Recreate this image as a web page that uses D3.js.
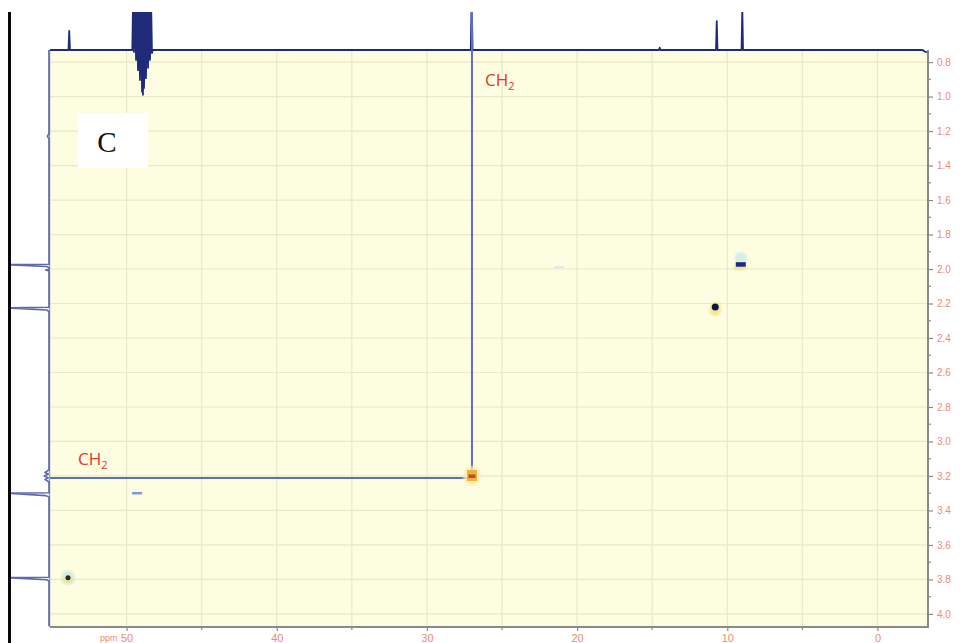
<!DOCTYPE html>
<html>
<head>
<meta charset="utf-8">
<script src="https://cdn.jsdelivr.net/npm/d3@7/dist/d3.min.js"></script>
<style>
  html, body { margin: 0; padding: 0; background: #ffffff; }
  svg { display: block; }
</style>
</head>
<body>
<svg id="chart" width="961" height="643"></svg>
<script>
// HSQC spectrum: 13C (horizontal, ppm) vs 1H (vertical, ppm)
const carbonTicks = [50, 40, 30, 20, 10, 0];
const carbonMinorTicks = [55, 45, 35, 25, 15, 5];
const protonTicks = [0.8, 1.0, 1.2, 1.4, 1.6, 1.8, 2.0, 2.2, 2.4, 2.6, 2.8, 3.0, 3.2, 3.4, 3.6, 3.8, 4.0];
const protonTickLabels = ["0.8", "1.0", "1.2", "1.4", "1.6", "1.8", "2.0", "2.2", "2.4", "2.6", "2.8", "3.0", "3.2", "3.4", "3.6", "3.8", "4.0"];

// 13C projection along the top: [ppm, intensity]
const carbonTrace = [
  [55.1, 0], [53.87, 0], [53.82, 50], [53.77, 0],
  [49.62, 0], [49.57, 130], [49.51, -5], [49.44, 130], [49.37, -26], [49.31, 130],
  [49.24, -53], [49.17, 130], [49.11, -79], [49.04, 130], [48.97, -110], [48.94, 130],
  [48.91, -118], [48.87, 130], [48.84, -100], [48.77, 130], [48.71, -74], [48.64, 130],
  [48.57, -47], [48.51, 130], [48.44, -26], [48.37, 130], [48.31, -8], [48.26, 0],
  [27.08, 0], [27.02, 140], [26.96, 0],
  [14.55, 0], [14.50, 6], [14.45, 0],
  [10.75, 0], [10.70, 76], [10.65, 0],
  [9.05, 0], [9.00, 110], [8.95, 0],
  [-3.0, 0], [-3.15, -4], [-3.3, -6]
];

// 1H projection along the left: [ppm, intensity]
const protonTrace = [
  [0.73, 0], [1.215, 0], [1.23, 4], [1.245, 0],
  [1.972, 0], [1.975, 110], [1.985, 6], [1.992, 0], [2.002, 0], [2.006, 8], [2.012, 0],
  [2.222, 0], [2.225, 110], [2.238, 6], [2.246, 0],
  [3.165, 0], [3.18, 10], [3.19, 2], [3.20, 12], [3.21, 2], [3.22, 10], [3.235, 0],
  [3.297, 0], [3.300, 110], [3.314, 8], [3.322, 0],
  [3.787, 0], [3.790, 110], [3.802, 6], [3.810, 0],
  [4.07, 0]
];

// Correlation peaks
const peakCarbon = [27.0, 10.8, 9.1, 49.3, 53.9, 21.2];
const peakProton = [3.20, 2.22, 1.975, 3.30, 3.79, 1.99];

// Assigned correlation marked with guide lines
const markedCarbon = 27.0;
const markedProton = 3.20;
const markedLabel = "CH";
const markedSub = "2";
const panelLabel = "C";

const svg = d3.select("#chart");
const plot = { left: 50, right: 928, top: 50, bottom: 626 };

const x = d3.scaleLinear().domain([55.1, -3.3]).range([plot.left, 927]);
const y = d3.scaleLinear().domain([0.73, 4.07]).range([plot.top, plot.bottom]);

// projection intensity scales
const topI = d3.scaleLinear().domain([0, 100]).range([plot.top, 12]);
const leftI = d3.scaleLinear().domain([0, 100]).range([49, 9]);

const defs = svg.append("defs");
defs.append("clipPath").attr("id", "clipTop")
  .append("rect").attr("x", plot.left - 2).attr("y", 12).attr("width", plot.right - plot.left + 4).attr("height", 120);
defs.append("clipPath").attr("id", "clipLeft")
  .append("rect").attr("x", 11).attr("y", plot.top).attr("width", 40).attr("height", plot.bottom - plot.top);
const blur = defs.append("filter").attr("id", "soft").attr("x", "-50%").attr("y", "-50%").attr("width", "200%").attr("height", "200%");
blur.append("feGaussianBlur").attr("stdDeviation", 1.2);
const blur2 = defs.append("filter").attr("id", "soft2").attr("x", "-50%").attr("y", "-50%").attr("width", "200%").attr("height", "200%");
blur2.append("feGaussianBlur").attr("stdDeviation", 0.6);

// plot background
svg.append("rect")
  .attr("x", plot.left).attr("y", plot.top)
  .attr("width", plot.right - plot.left).attr("height", plot.bottom - plot.top)
  .attr("fill", "#fdfde2");

// grid
const grid = svg.append("g").attr("stroke", "#e9e9c6").attr("stroke-width", 1.2);
grid.selectAll("line.v").data(carbonTicks.concat(carbonMinorTicks.filter(d => d < 55)))
  .join("line").attr("class", "v")
  .attr("x1", d => x(d)).attr("x2", d => x(d))
  .attr("y1", plot.top).attr("y2", plot.bottom);
grid.selectAll("line.h").data(protonTicks)
  .join("line").attr("class", "h")
  .attr("x1", plot.left).attr("x2", plot.right)
  .attr("y1", d => y(d)).attr("y2", d => y(d));

// left plot border (1H projection baseline)
svg.append("line")
  .attr("x1", plot.left - 0.5).attr("x2", plot.left - 0.5)
  .attr("y1", plot.top).attr("y2", plot.bottom + 1)
  .attr("stroke", "#9da1c2").attr("stroke-width", 1.5);

// right axis (1H)
const rightAxis = d3.axisRight(y)
  .tickValues(protonTicks)
  .tickFormat((d, i) => protonTickLabels[i])
  .tickSize(5).tickPadding(4);
const gR = svg.append("g").attr("transform", `translate(${plot.right},0)`).call(rightAxis);
gR.select(".domain").attr("stroke", "#8a8a8a").attr("stroke-width", 2)
  .attr("d", `M0,${plot.top}V${plot.bottom + 1}`);
gR.selectAll(".tick line").attr("stroke", "#8a8a8a").attr("stroke-width", 1.2);
gR.selectAll(".tick text").attr("fill", "#ef8a72").attr("font-size", 10)
  .attr("font-family", "Liberation Sans, Arial, sans-serif");
const protonMinor = d3.range(0, protonTicks.length - 1).map(i => (protonTicks[i] + protonTicks[i + 1]) / 2);
gR.selectAll("line.minor").data(protonMinor).join("line").attr("class", "minor")
  .attr("x1", 0).attr("x2", 3).attr("y1", d => y(d)).attr("y2", d => y(d))
  .attr("stroke", "#8a8a8a").attr("stroke-width", 1.2);

// bottom axis (13C)
const bottomAxis = d3.axisBottom(x)
  .tickValues(carbonTicks)
  .tickSize(4).tickPadding(3);
const gB = svg.append("g").attr("transform", `translate(0,${plot.bottom + 1})`).call(bottomAxis);
gB.select(".domain").attr("stroke", "#8a8a8a").attr("stroke-width", 2)
  .attr("d", `M${plot.left},0H${plot.right + 1}`);
gB.selectAll(".tick line").attr("stroke", "#8a8a8a").attr("stroke-width", 1.2);
gB.selectAll(".tick text").attr("fill", "#ef8a72").attr("font-size", 11)
  .attr("font-family", "Liberation Sans, Arial, sans-serif");
gB.selectAll("line.minor").data(carbonMinorTicks.filter(d => d < 55)).join("line").attr("class", "minor")
  .attr("x1", d => x(d)).attr("x2", d => x(d)).attr("y1", 0).attr("y2", 3)
  .attr("stroke", "#8a8a8a").attr("stroke-width", 1.2);
svg.append("text")
  .attr("x", x(50) - 9).attr("y", plot.bottom + 15)
  .attr("text-anchor", "end")
  .attr("fill", "#ef8a72").attr("font-size", 9)
  .attr("font-family", "Liberation Sans, Arial, sans-serif")
  .text("ppm");

// 13C projection
svg.append("path")
  .datum(carbonTrace)
  .attr("clip-path", "url(#clipTop)")
  .attr("fill", "none")
  .attr("stroke", "#1f2b78").attr("stroke-width", 1.8).attr("stroke-linejoin", "round")
  .attr("d", d3.line().x(d => x(d[0])).y(d => topI(d[1])));

// 1H projection
svg.append("path")
  .datum(protonTrace)
  .attr("clip-path", "url(#clipLeft)")
  .attr("fill", "none")
  .attr("stroke", "#5f68a8").attr("stroke-width", 1.6).attr("stroke-linejoin", "round")
  .attr("d", d3.line().x(d => leftI(d[1])).y(d => y(d[0])));

// guide lines through the assigned correlation
svg.append("path")
  .attr("fill", "none").attr("stroke", "#5b6fc9").attr("stroke-width", 2)
  .attr("d", `M${x(markedCarbon)},12V${y(markedProton) + 2}H${plot.left}`);

// correlation peaks
const peaks = svg.append("g");
function glyph(i) {
  const cx = x(peakCarbon[i]), cy = y(peakProton[i]);
  return peaks.append("g").attr("transform", `translate(${cx},${cy})`);
}
// CH2 cross peak
{
  const g = glyph(0);
  g.append("ellipse").attr("rx", 9).attr("ry", 10).attr("fill", "#fbeeb0").attr("opacity", 0.8).attr("filter", "url(#soft)");
  g.append("rect").attr("x", -5).attr("y", -6).attr("width", 10).attr("height", 11).attr("fill", "#f0b13e").attr("filter", "url(#soft2)");
  g.append("rect").attr("x", -3.5).attr("y", -1.5).attr("width", 7).attr("height", 3.5).attr("fill", "#c24a24").attr("filter", "url(#soft2)");
}
// 10.8 / 2.22
{
  const g = glyph(1);
  g.append("ellipse").attr("cy", 2).attr("rx", 6).attr("ry", 7).attr("fill", "#f6e37e").attr("opacity", 0.8).attr("filter", "url(#soft)");
  g.append("ellipse").attr("rx", 3.5).attr("ry", 3.5).attr("fill", "#0f1747").attr("filter", "url(#soft2)");
}
// 9.1 / 1.975
{
  const g = glyph(2);
  g.append("ellipse").attr("cy", -6).attr("rx", 6).attr("ry", 7).attr("fill", "#cfeee8").attr("opacity", 0.9).attr("filter", "url(#soft)");
  g.append("ellipse").attr("cx", -1).attr("cy", 3).attr("rx", 7).attr("ry", 2.5).attr("fill", "#f4df82").attr("opacity", 0.8).attr("filter", "url(#soft)");
  g.append("rect").attr("x", -5).attr("y", -2.5).attr("width", 10).attr("height", 4.5).attr("fill", "#1a2c82").attr("filter", "url(#soft2)");
}
// 49.3 / 3.30
{
  const g = glyph(3);
  g.append("rect").attr("x", -5).attr("y", -1.2).attr("width", 10).attr("height", 2.4).attr("fill", "#7d95dc").attr("filter", "url(#soft2)");
}
// 53.9 / 3.79
{
  const g = glyph(4);
  g.append("ellipse").attr("rx", 7).attr("ry", 7).attr("fill", "#d3ece0").attr("opacity", 0.9).attr("filter", "url(#soft)");
  g.append("ellipse").attr("cy", 2).attr("rx", 5).attr("ry", 4).attr("fill", "#f3e27c").attr("opacity", 0.7).attr("filter", "url(#soft)");
  g.append("ellipse").attr("rx", 2.5).attr("ry", 2.5).attr("fill", "#1d2a3a").attr("filter", "url(#soft2)");
}
// faint 21.2 / 1.99
{
  const g = glyph(5);
  g.append("rect").attr("x", -5).attr("y", -1).attr("width", 10).attr("height", 2).attr("fill", "#d2e8f0").attr("filter", "url(#soft2)");
}

// assignment labels
function chLabel(px, py) {
  const t = svg.append("text")
    .attr("x", px).attr("y", py)
    .attr("fill", "#e8352a").attr("font-size", 17)
    .attr("font-family", "Open Sans, Liberation Sans, sans-serif");
  t.append("tspan").text(markedLabel);
  t.append("tspan").attr("font-size", 11).attr("dy", 4).text(markedSub);
}
chLabel(x(markedCarbon) + 13, 86);
chLabel(plot.left + 28, y(markedProton) - 11);

// panel label
svg.append("rect").attr("x", 78).attr("y", 113).attr("width", 70).attr("height", 55).attr("fill", "#ffffff");
svg.append("text")
  .attr("x", 107).attr("y", 152)
  .attr("text-anchor", "middle")
  .attr("font-size", 29)
  .attr("font-family", "Liberation Serif, Times New Roman, serif")
  .attr("fill", "#111111")
  .text(panelLabel);

// left margin rule
svg.append("rect").attr("x", 8).attr("y", 12).attr("width", 3).attr("height", 643 - 12).attr("fill", "#0a0a0a");
</script>
</body>
</html>
